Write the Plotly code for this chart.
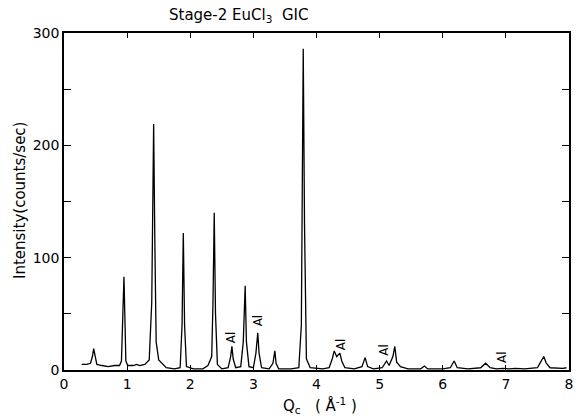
import plotly.graph_objects as go

# Stage-2 EuCl3 GIC, intensity vs Qc
q = [0.28, 0.36, 0.42, 0.45, 0.47, 0.49, 0.52, 0.60, 0.70, 0.80, 0.88, 0.91, 0.93, 0.95, 0.965, 0.98,
     1.01, 1.10, 1.15, 1.20, 1.28, 1.35, 1.39, 1.42, 1.44, 1.46, 1.50, 1.55, 1.62, 1.75, 1.84, 1.87,
     1.89, 1.91, 1.94, 2.05, 2.20, 2.28, 2.34, 2.36, 2.38, 2.40, 2.43, 2.50, 2.60, 2.64, 2.66, 2.68,
     2.72, 2.80, 2.84, 2.87, 2.89, 2.93, 3.00, 3.04, 3.07, 3.09, 3.13, 3.25, 3.31, 3.34, 3.36, 3.40,
     3.60, 3.72, 3.76, 3.79, 3.81, 3.84, 3.90, 4.10, 4.20, 4.25, 4.28, 4.32, 4.37, 4.40, 4.45, 4.60,
     4.72, 4.77, 4.81, 4.90, 5.04, 5.11, 5.15, 5.21, 5.24, 5.27, 5.33, 5.45, 5.65, 5.71, 5.76, 6.00,
     6.12, 6.18, 6.23, 6.40, 6.60, 6.68, 6.75, 6.85, 6.95, 7.05, 7.15, 7.30, 7.50, 7.55, 7.60, 7.64,
     7.70, 7.90, 7.96]
counts = [5, 5, 6, 12, 19, 12, 5, 4, 3, 4, 4, 8, 45, 83, 45, 8,
          4, 4, 5, 4, 5, 9, 60, 219, 110, 25, 9, 6, 2, 1, 2, 40,
          122, 40, 3, 1, 1, 4, 12, 60, 140, 50, 5, 1, 2, 12, 21, 10,
          2, 3, 25, 75, 25, 3, 2, 15, 33, 15, 2, 1, 6, 17, 6, 1,
          1, 2, 40, 286, 130, 10, 2, 1, 2, 10, 17, 12, 15, 8, 2, 1,
          3, 11, 3, 1, 2, 8, 4, 12, 21, 7, 3, 1, 1, 3.5, 1, 1,
          2, 8, 2, 1, 2, 6, 2, 1, 1.5, 1, 1.5, 1, 2, 7, 12, 6,
          2, 1.5, 2]

# aluminium (sample holder) lines
al_q = [2.66, 3.07, 4.39, 5.07, 6.93]
al_y = [29, 44, 23, 18, 12]

font = "DejaVu Sans"

fig = go.Figure()
fig.add_trace(go.Scatter(x=q, y=counts, mode="lines",
                         line=dict(color="black", width=1.3), showlegend=False))

for x, y in zip(al_q, al_y):
    fig.add_annotation(x=x, y=y, text="Al", textangle=-90, showarrow=False,
                       xanchor="center", yanchor="middle",
                       font=dict(family=font, size=12, color="black"))

fig.add_annotation(text="Stage-2 EuCl<sub>3</sub>  GIC", xref="paper", yref="paper",
                   x=(240 - 64) / 509, xanchor="center", y=1.0, yshift=6, yanchor="bottom",
                   showarrow=False, font=dict(family=font, size=15, color="black"))
fig.add_annotation(text="Q<sub>c</sub>   ( Å<sup>-1</sup> )", xref="paper", yref="paper",
                   x=(322 - 64) / 509, xanchor="center", y=0, yshift=-35, yanchor="middle",
                   showarrow=False, font=dict(family=font, size=15, color="black"))
fig.add_annotation(text="Intensity(counts/sec)", xref="paper", yref="paper", textangle=-90,
                   x=0, xshift=-44, xanchor="center", y=(370 - 201) / 337, yanchor="middle",
                   showarrow=False, font=dict(family=font, size=15, color="black"))

fig.update_xaxes(range=[0, 8], dtick=1, ticks="inside", ticklen=5,
                 showline=True, mirror="ticks", linecolor="black", linewidth=1.5,
                 tickcolor="black", showgrid=False, zeroline=False,
                 tickfont=dict(family=font, size=14, color="black"))
fig.update_yaxes(range=[0, 300], dtick=100, ticks="inside", ticklen=7,
                 minor=dict(dtick=50, ticks="inside", ticklen=7, tickcolor="black", showgrid=False),
                 showline=True, mirror="ticks", linecolor="black", linewidth=1.5,
                 tickcolor="black", showgrid=False, zeroline=False,
                 tickfont=dict(family=font, size=14, color="black"))

fig.update_layout(width=576, height=416, margin=dict(l=64, r=3, t=33, b=46),
                  plot_bgcolor="white", paper_bgcolor="white")

# drop the default page margin so the figure sits at the window origin
fig.write_html("out.html", config={"displayModeBar": False},
               post_script="document.body.style.margin='0px';")
